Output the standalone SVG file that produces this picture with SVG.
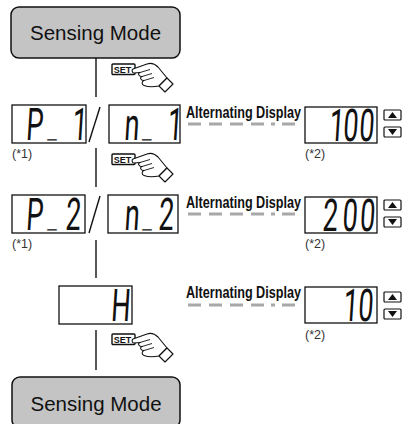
<svg xmlns="http://www.w3.org/2000/svg" width="408" height="424" viewBox="0 0 408 424">
<defs>
<style>
.mode{fill:#c4c4c4;stroke:#111;stroke-width:1.5}
.modet{font-family:"Liberation Sans",Arial,sans-serif;font-size:20.5px;fill:#111;text-anchor:middle}
.disp{fill:#fff;stroke:#111;stroke-width:1.3}
.seg{font-family:Roboto,"Liberation Sans",Arial,sans-serif;font-weight:400;font-size:45px;fill:#111;text-anchor:middle}
.us{font-family:"Liberation Sans",Arial,sans-serif;font-size:28px;font-weight:bold}
.note{font-family:"Liberation Sans",Arial,sans-serif;font-size:12.5px;fill:#333}
.alt{font-family:"Liberation Sans",Arial,sans-serif;font-size:16px;font-weight:bold;fill:#111}
.dash{stroke:#a8a8a8;stroke-width:3;fill:none;stroke-dasharray:13 8 13 8 13 8 13 7 4 7 13 100}
.line{stroke:#111;stroke-width:1.4;fill:none}
.btn{fill:#fff;stroke:#111;stroke-width:1.2}
.tri{fill:#111}
.setb{fill:#fff;stroke:#111;stroke-width:1.4}
.sett{font-family:"Liberation Sans",Arial,sans-serif;font-size:9px;font-weight:bold;fill:#111}
.hand{fill:#fff;stroke:#111;stroke-width:1.1;stroke-linejoin:round}
</style>
<g id="setkey">
<rect class="setb" x="0" y="0" width="23" height="10.5" rx="1"/>
<text class="sett" x="1.8" y="8.8">SET</text>
<path class="hand" d="M21,5 L35,0 C39,-1.5 43,0 46,3 L55,14 L47,22 C42,23 36,23 32,21.5 C29.5,20.5 29.5,17.5 32,16.5 C28.5,16.5 27.5,13.5 30,12.5 C26.5,12.5 25.5,9.5 28,8.5 L22,9 C20,9.2 19.5,5.7 21,5 Z"/>
<path class="hand" d="M47,22 L55,14 L61,20 L53,28 Z"/>
<path class="line" style="stroke-width:0.9" d="M28,8.5 L38,5.5 M30,12.5 L40,9.5 M32,16.5 L42,13.5"/>
</g>
<g id="updown">
<rect class="btn" x="0" y="0" width="17" height="10" rx="1"/>
<path class="tri" d="M8.5,2 L13,8 L4,8 Z"/>
<rect class="btn" x="0" y="17" width="17" height="10" rx="1"/>
<path class="tri" d="M4,19 L13,19 L8.5,25 Z"/>
</g>
</defs>

<g id="connectors">
<path class="line" d="M96,58 V97"/>
<path class="line" d="M96,148 V187"/>
<path class="line" d="M96,240 V278"/>
<path class="line" d="M96,330 V370"/>
<path class="line" d="M89,142 L100,107"/>
<path class="line" d="M89,233 L100,196"/>
<path class="dash" d="M188,124 H298"/>
<path class="dash" d="M188,214 H298"/>
<path class="dash" d="M188,305 H298"/>
</g>

<g id="sensing-mode-top">
<rect class="mode" x="11" y="7" width="169" height="51" rx="8"/>
<text class="modet" x="95.5" y="40">Sensing Mode</text>
</g>

<g id="set1"><use href="#setkey" x="112" y="64"/></g>

<g id="p1">
<rect class="disp" x="12" y="105" width="74" height="38"/>
<text class="seg" transform="translate(12,140) scale(0.6,1) skewX(-6)"><tspan x="36.7">P</tspan><tspan class="us" x="66.7" dy="-3">_</tspan><tspan x="112" dy="3">1</tspan></text>
<text class="note" x="12" y="158">(*1)</text>
</g>
<g id="n1">
<rect class="disp" x="109" y="105" width="71" height="38"/>
<text class="seg" transform="translate(109,140) scale(0.6,1) skewX(-6)"><tspan x="37">n</tspan><tspan class="us" x="63" dy="-3">_</tspan><tspan x="109" dy="3">1</tspan></text>
</g>
<g id="alt1">
<text class="alt" x="186" y="118" textLength="115" lengthAdjust="spacingAndGlyphs">Alternating Display</text>
</g>
<g id="v100">
<rect class="disp" x="305" y="107" width="72" height="36"/>
<text class="seg" transform="translate(305,141) scale(0.6,1) skewX(-6)"><tspan x="52">1</tspan><tspan x="75">0</tspan><tspan x="102">0</tspan></text>
<text class="note" x="305" y="158">(*2)</text>
<use href="#updown" x="384" y="110"/>
</g>

<g id="set2"><use href="#setkey" x="112" y="154"/></g>

<g id="p2">
<rect class="disp" x="12" y="195" width="73" height="38"/>
<text class="seg" transform="translate(12,230) scale(0.6,1) skewX(-6)"><tspan x="36.7">P</tspan><tspan class="us" x="66.7" dy="-3">_</tspan><tspan x="101" dy="3">2</tspan></text>
<text class="note" x="12" y="248">(*1)</text>
</g>
<g id="n2">
<rect class="disp" x="108" y="195" width="70" height="38"/>
<text class="seg" transform="translate(108,230) scale(0.6,1) skewX(-6)"><tspan x="39">n</tspan><tspan class="us" x="65" dy="-3">_</tspan><tspan x="96" dy="3">2</tspan></text>
</g>
<g id="alt2">
<text class="alt" x="186" y="208" textLength="115" lengthAdjust="spacingAndGlyphs">Alternating Display</text>
</g>
<g id="v200">
<rect class="disp" x="305" y="197" width="72" height="36"/>
<text class="seg" transform="translate(305,231) scale(0.6,1) skewX(-6)"><tspan x="41">2</tspan><tspan x="74">0</tspan><tspan x="103">0</tspan></text>
<text class="note" x="305" y="248">(*2)</text>
<use href="#updown" x="384" y="200"/>
</g>

<g id="set3"><use href="#setkey" x="112" y="334"/></g>

<g id="h">
<rect class="disp" x="59" y="286" width="73" height="38"/>
<text class="seg" transform="translate(59,321) scale(0.6,1) skewX(-6)"><tspan x="102">H</tspan></text>
</g>
<g id="alt3">
<text class="alt" x="186" y="298" textLength="115" lengthAdjust="spacingAndGlyphs">Alternating Display</text>
</g>
<g id="v10">
<rect class="disp" x="305" y="287" width="72" height="36"/>
<text class="seg" transform="translate(305,321) scale(0.6,1) skewX(-6)"><tspan x="75">1</tspan><tspan x="100">0</tspan></text>
<text class="note" x="305" y="339">(*2)</text>
<use href="#updown" x="384" y="292"/>
</g>

<g id="sensing-mode-bottom">
<rect class="mode" x="12" y="377" width="168" height="51" rx="8"/>
<text class="modet" x="96" y="411">Sensing Mode</text>
</g>
</svg>
